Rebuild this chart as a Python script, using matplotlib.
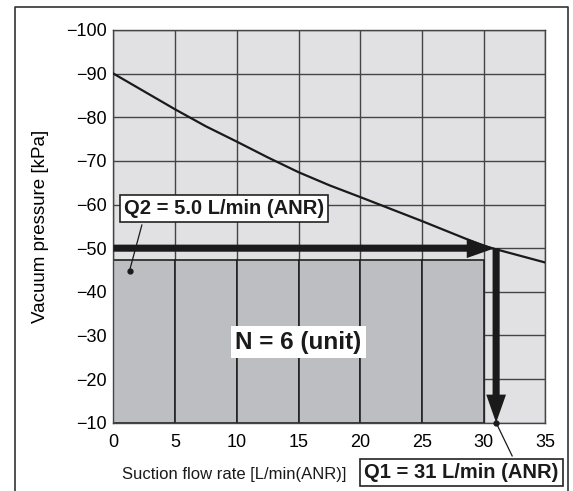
import numpy as np
import matplotlib.pyplot as plt
from matplotlib.lines import Line2D

plt.rcParams['font.family'] = ['Liberation Sans', 'DejaVu Sans']

# Data
flow = [0, 2.5, 5, 7.5, 10, 12.5, 15, 17.5, 20, 25, 30, 35]
pressure = [-90, -85.9, -81.8, -77.9, -74.4, -70.8, -67.4, -64.4, -61.7, -56.2, -50.5, -46.7]

unit_x = [2.5, 7.5, 12.5, 17.5, 22.5, 27.5]   # N = 6 units, 5 L/min each
unit_top = -47.3
q1 = 31
p_set = -50
q2_dot = (1.3, -44.8)

xticks = [0, 5, 10, 15, 20, 25, 30, 35]
yticks = [-100, -90, -80, -70, -60, -50, -40, -30, -20, -10]

fig = plt.figure(figsize=(5.73, 4.91), dpi=100)
ax = fig.add_axes([0.198, 0.139, 0.754, 0.800])

ax.set_facecolor('#e1e1e3')
ax.grid(True, color='#444444', linewidth=1.0)
ax.set_axisbelow(True)

# shaded block of 6 units
ax.bar(unit_x, [unit_top + 10] * len(unit_x), width=5, bottom=-10,
       color='#bdbec2', edgecolor='#222222', linewidth=1.2, zorder=2)

# characteristic curve
ax.plot(flow, pressure, color='#1a1a1a', linewidth=1.6, zorder=4)

# arrows
arr = dict(arrowstyle='simple,tail_width=0.34,head_width=0.95,head_length=1.35',
           mutation_scale=15, color='#1a1a1a', lw=0, shrinkA=0, shrinkB=0)
ax.annotate('', xy=(q1 - 0.1, p_set), xytext=(0, p_set), arrowprops=arr, zorder=5)
ax.annotate('', xy=(q1, -10), xytext=(q1, p_set), arrowprops=arr, zorder=5)

ax.set_xlim(0, 35)
ax.set_ylim(-10, -100)
ax.set_xticks(xticks)
ax.set_yticks(yticks)
ax.set_xticklabels([str(v) for v in xticks], fontsize=13)
ax.set_yticklabels(['\u2212%d' % abs(v) for v in yticks], fontsize=13)
ax.tick_params(length=0)
ax.tick_params(axis='x', pad=8)
ax.tick_params(axis='y', pad=5)
for s in ax.spines.values():
    s.set_color('#444444')
    s.set_linewidth(1.0)

ax.set_ylabel('Vacuum pressure [kPa]', fontsize=13.5, labelpad=12)

# Q2 label
ax.plot([q2_dot[0], 2.3], [q2_dot[1], -55.3], color='#1a1a1a', lw=0.9, zorder=6)
ax.plot(*q2_dot, 'o', color='#1a1a1a', ms=3.5, zorder=6)
ax.text(8.96, -59.0, 'Q2 = 5.0 L/min (ANR)', fontsize=14.5, fontweight='bold',
        ha='center', va='center', color='#1a1a1a', zorder=7,
        bbox=dict(boxstyle='square,pad=0.2', fc='white', ec='#222222', lw=1.2))

# N label
ax.text(15.0, -28.5, 'N = 6 (unit)', fontsize=17.5, fontweight='bold',
        ha='center', va='center', color='#1a1a1a', zorder=7,
        bbox=dict(boxstyle='square,pad=0.18', fc='white', ec='none'))

# Q1 label
ax.plot([q1, 32.3], [-10, -2.4], color='#1a1a1a', lw=0.9, zorder=6, clip_on=False)
ax.plot(q1, -10, 'o', color='#1a1a1a', ms=3.5, zorder=6, clip_on=False)
ax.text(28.2, 1.4, 'Q1 = 31 L/min (ANR)', fontsize=14.5, fontweight='bold',
        ha='center', va='center', color='#1a1a1a', zorder=7,
        bbox=dict(boxstyle='square,pad=0.2', fc='white', ec='#222222', lw=1.2))

fig.text(122 / 573, 1 - 475 / 491, 'Suction flow rate [L/min(ANR)]', fontsize=12,
         ha='left', va='center', color='#1a1a1a')

# outer frame (bottom is cut off)
x0, x1, yt = 15 / 573, 568 / 573, 1 - 7 / 491
fig.lines.append(Line2D([x0, x0, x1, x1], [0, yt, yt, 0], transform=fig.transFigure,
                        color='#333333', lw=1.2))

fig.savefig('out.png', dpi=100)
